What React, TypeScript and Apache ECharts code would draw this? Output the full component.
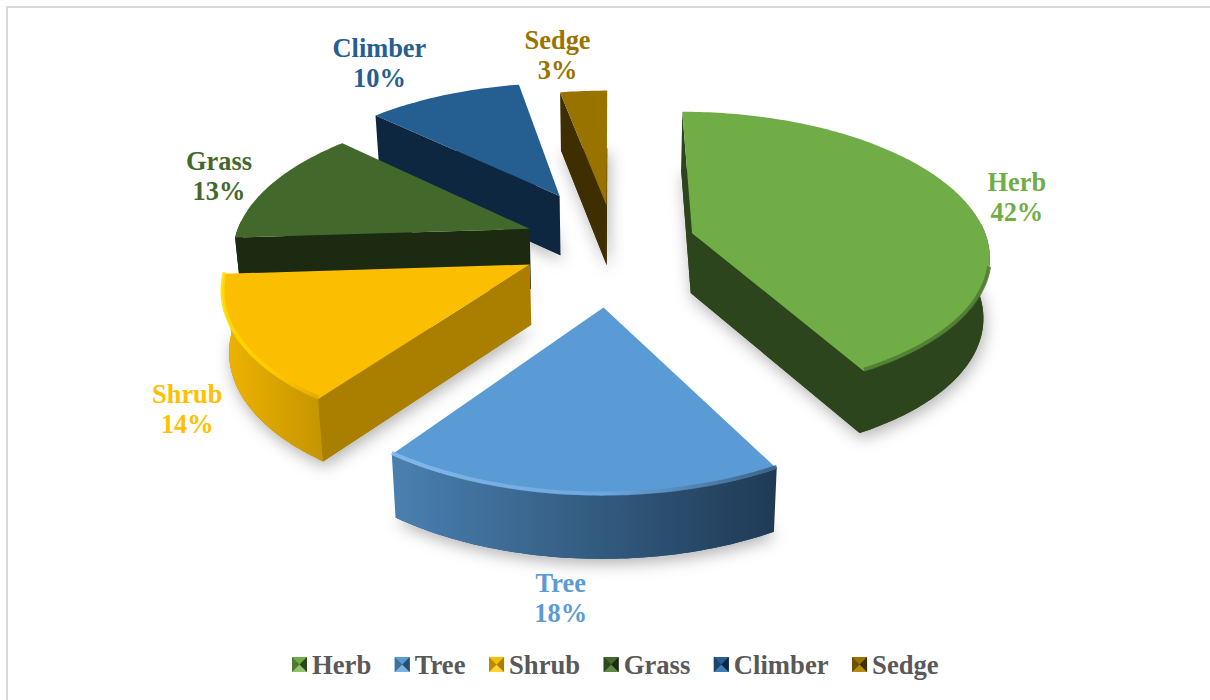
import React, { useEffect, useRef } from "react";
import * as echarts from "echarts";

const categories = ["Herb", "Tree", "Shrub", "Grass", "Climber", "Sedge"];
const shares = [42, 18, 14, 13, 10, 3];

// styling and layout, by category
const topColors = ["#70AD47", "#5B9BD5", "#FBBE00", "#43682B", "#255E91", "#997300"];
const faceColors = ["#2D451C", "#2D4D6C", "#AA7F00", "#1B2A11", "#0E2740", "#3F2F00"];
const wallFrom = ["#2D451C", "#4A80B0", "#F0B400", "#1B2A11", "#0E2740", "#3F2F00"];
const wallTo = ["#2D451C", "#1F3A55", "#C49500", "#1B2A11", "#0E2740", "#3F2F00"];
const rimStart = ["#4E7A31", "#86BCEE", "#FFDD00", "", "", ""];
const rimEnd = ["#4E7A31", "#34597A", "#E0A800", "", "", ""];
const rimFromDeg = [104, 86, 86, 0, 0, 0];
const iconLight = ["#8FC46C", "#7DB2E2", "#FFD335", "#5F8A44", "#3F7DB5", "#B88C10"];
const iconMid = ["#4F7A33", "#3F6F9D", "#B88A00", "#2E481D", "#1A4468", "#6B5100"];
const labelColors = ["#70AD47", "#5B9BD5", "#FFC000", "#43682B", "#255E91", "#997300"];
const explode = [0.282, 0.431, 0.31, 0.3, 0.4, 0.275];
const nudgeX = [0, 0, 0, 0, 0.007, 0.007];
const labelShift = [[53, -3], [-18, 103], [-52, 68], [-52, -9], [-64, -32], [-26, -36]];
const paintOrder = [5, 4, 3, 2, 0, 1];

const CX = 612, CY = 243, AX = 296, BY = 141, K = 0.14, DEPTH = 60;
const SERIF = '"Liberation Serif", "Times New Roman", serif';
const LEGEND_LEFT = 292, LEGEND_TOP = 651, ICON = 15, LEGEND_GAP = 23.5, LEGEND_FONT = 26.67;

const total = shares.reduce((a, b) => a + b, 0);
const toRad = (d: number) => (d * Math.PI) / 180;

function project(X: number, Y: number) {
  const s = 1 / (1 - K * Y);
  return { x: CX + AX * X * s, y: CY + BY * Y * s, s };
}
const lower = (p: { x: number; y: number; s: number }) => ({
  x: CX + (p.x - CX) * 0.983,
  y: p.y + DEPTH * (1 + 0.25 * (p.s - 1)),
  s: p.s,
});
const xy = (p: { x: number; y: number }) => [p.x, p.y];

function renderSlice(index: number, api: any) {
  const value = api.value(0) as number;
  const before = shares.slice(0, index).reduce((a, b) => a + b, 0);
  const a0 = (before / total) * 360;
  const a1 = a0 + (value / total) * 360;
  const mid = toRad((a0 + a1) / 2);
  const ex = explode[index] * Math.sin(mid) + nudgeX[index];
  const ey = -explode[index] * Math.cos(mid);
  const at = (deg: number) => project(ex + Math.sin(toRad(deg)), ey - Math.cos(toRad(deg)));
  const apex = project(ex, ey);

  const arc: ReturnType<typeof project>[] = [];
  const steps = Math.max(12, Math.round(a1 - a0));
  for (let i = 0; i <= steps; i++) arc.push(at(a0 + ((a1 - a0) * i) / steps));
  const degOf = (i: number) => a0 + ((a1 - a0) * i) / steps;

  const children: any[] = [];
  // base with its soft shadow
  const base = [lower(apex), ...arc.map(lower)].map(xy);
  children.push({
    type: "polygon",
    shape: { points: base },
    silent: true,
    style: {
      fill: faceColors[index],
      shadowBlur: 16,
      shadowColor: "rgba(0,0,0,0.3)",
      shadowOffsetX: 2,
      shadowOffsetY: 5,
    },
  });
  // radial faces that look to the viewer
  const face = (p: ReturnType<typeof project>) => ({
    type: "polygon",
    shape: { points: [apex, p, lower(p), lower(apex)].map(xy) },
    silent: true,
    style: { fill: faceColors[index] },
  });
  const first = arc[0];
  const last = arc[arc.length - 1];
  // outer wall, only the part on the viewer's side
  const front = arc.filter((_, i) => degOf(i) >= 86 && degOf(i) <= 274);
  if (front.length > 1) {
    children.push({
      type: "polygon",
      shape: { points: [...front.map(xy), ...front.slice().reverse().map(lower).map(xy)] },
      silent: true,
      style: {
        fill: new echarts.graphic.LinearGradient(0, 0, 1, 0, [
          { offset: 0, color: wallFrom[index] },
          { offset: 1, color: wallTo[index] },
        ]),
      },
    });
  }
  if (Math.sin(toRad(a0)) <= 0) children.push(face(first));
  if (Math.sin(toRad(a1)) > 0) children.push(face(last));
  // top
  children.push({
    type: "polygon",
    shape: { points: [xy(apex), ...arc.map(xy)] },
    silent: true,
    style: { fill: topColors[index] },
  });
  // bevel along the front of the rim
  const bevel = arc.filter((_, i) => degOf(i) >= rimFromDeg[index] && degOf(i) <= 274);
  if (rimStart[index] && bevel.length > 1) {
    const xs = bevel.map((p) => p.x);
    const left = Math.min(...xs);
    const right = Math.max(...xs);
    children.push({
      type: "polyline",
      shape: { points: bevel.map((p) => [p.x, p.y - 1.5]) },
      silent: true,
      style: {
        stroke: new echarts.graphic.LinearGradient(left, 0, right, 0, [
          { offset: 0, color: rimStart[index] },
          { offset: 0.55, color: index === 2 ? "#FFCC00" : index === 1 ? "#6FAAE2" : rimStart[index] },
          { offset: 1, color: rimEnd[index] },
        ], true),
        lineWidth: 4,
        fill: "none",
        opacity: 0.85,
      },
    });
  }
  // label
  const rim = at((a0 + a1) / 2);
  children.push({
    type: "text",
    silent: true,
    style: {
      text: `${categories[index]}\n${value}%`,
      x: rim.x + labelShift[index][0],
      y: rim.y + labelShift[index][1],
      fill: labelColors[index],
      font: `bold 26.4px ${SERIF}`,
      align: "center",
      verticalAlign: "middle",
      lineHeight: 30,
    },
  });
  return { type: "group", children };
}

function legendIcons() {
  const ctx = document.createElement("canvas").getContext("2d") as CanvasRenderingContext2D;
  ctx.font = `bold ${LEGEND_FONT}px ${SERIF}`;
  const out: any[] = [];
  let x = LEGEND_LEFT;
  const y = LEGEND_TOP + 6;
  categories.forEach((name, i) => {
    const m = [x + ICON / 2, y + ICON / 2];
    const tri = (a: number[], b: number[], fill: string) => ({
      type: "polygon",
      silent: true,
      z: 20,
      shape: { points: [a, b, m] },
      style: { fill },
    });
    out.push(
      tri([x, y], [x + ICON, y], topColors[i]),
      tri([x, y + ICON], [x + ICON, y + ICON], iconLight[i]),
      tri([x, y], [x, y + ICON], iconMid[i]),
      tri([x + ICON, y], [x + ICON, y + ICON], faceColors[i]),
    );
    x += ICON + 5 + ctx.measureText(name).width + LEGEND_GAP;
  });
  return out;
}

export default function App() {
  const ref = useRef<HTMLDivElement>(null);
  useEffect(() => {
    const chart = echarts.init(ref.current as HTMLDivElement, undefined, { renderer: "svg" });
    chart.setOption({
      animation: false,
      backgroundColor: "#ffffff",
      legend: {
        data: categories.map((name) => ({ name, icon: "rect" })),
        left: LEGEND_LEFT,
        top: LEGEND_TOP,
        orient: "horizontal",
        itemWidth: ICON,
        itemHeight: ICON,
        itemGap: LEGEND_GAP,
        selectedMode: false,
        padding: 0,
        textStyle: {
          color: "#595959",
          fontFamily: SERIF,
          fontWeight: "bold",
          fontSize: LEGEND_FONT,
        },
      },
      graphic: [
        {
          type: "polyline",
          silent: true,
          shape: { points: [[7, 700], [7, 7], [1210, 7]] },
          style: { stroke: "#D9D9D9", lineWidth: 2, fill: "none" },
        },
        ...legendIcons(),
      ],
      series: categories.map((name, i) => ({
        type: "custom",
        name,
        coordinateSystem: "none",
        z: 2 + paintOrder.indexOf(i),
        itemStyle: { color: topColors[i] },
        data: [[shares[i]]],
        renderItem: (_p: any, api: any) => renderSlice(i, api),
      })),
    });
    return () => chart.dispose();
  }, []);
  return <div ref={ref} style={{ position: "absolute", left: 0, top: 0, width: 1210, height: 700 }} />;
}
